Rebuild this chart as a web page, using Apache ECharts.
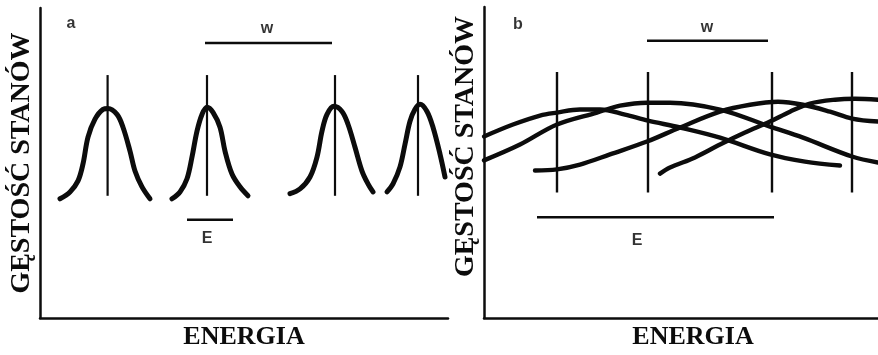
<!DOCTYPE html>
<html>
<head>
<meta charset="utf-8">
<style>
  html, body { margin: 0; padding: 0; background: #ffffff; }
  #chart { width: 878px; height: 355px; }
</style>
<script src="https://cdn.jsdelivr.net/npm/echarts@6/dist/echarts.min.js"></script>
</head>
<body>
<div id="chart"></div>
<script>
// Panel (a): narrow, well separated density-of-states peaks
// (energy in arbitrary units along x, density of states along y)
const peakA1 = [[5,40],[7.5,42.3],[9.5,46],[10.75,51.7],[12,60.7],[13.75,66.7],[15.75,70],[17,70.3],[19.25,68.3],[20.75,64],[22.5,56],[23.75,49.3],[25.5,44],[27.5,40]];
const peakA2 = [[33,40],[35,42.3],[36.75,46.7],[38,54],[39.25,62.7],[40.5,68.3],[41.75,70.7],[43.25,69],[45,64],[46.25,56],[48,48.3],[50,44],[52,41]];
const peakA3 = [[62.5,41.7],[65,43.3],[67.5,47.3],[69.25,54],[70.5,62.7],[71.75,68.3],[73.5,71],[75.5,69.3],[77,65],[78.75,57.3],[80.5,49.3],[82,45],[83.25,42.3]];
const peakA4 = [[86.75,42.3],[88.25,45],[90,50.7],[91.25,58.3],[92.5,66],[93.75,70],[95,71.7],[96.75,69.3],[98.25,64],[100,55],[101.25,47.3]];
// level positions (x) and vertical extent of the level markers
const levelsA = [16.9, 41.75, 73.75, 94.5];
const levelSpanA = [41, 81.5];
// W bar (above) and E bar (below): [x0, x1, y]
const barWA = [41.25, 73, 92.3];
const barEA = [36.75, 48.25, 33];
// text labels: [x, y, text]
const labelsA = [[7.75, 98.7, 'a'], [56.75, 97.2, 'w'], [41.75, 26.7, 'E']];

// Panel (b): broad, strongly overlapping bands
const bandB1 = [[0,60.7],[7.25,64.7],[14,67.7],[18.25,68.7],[24,69.7],[29,69.7],[35.25,68],[41,66],[49,63.7],[59,60.3],[71.5,54.7],[80.25,52.3],[89,51]];
const bandB2 = [[0,52.7],[9,58],[18.25,64.7],[28.25,68.7],[34,71],[40.75,72],[46.5,72],[59,69.7],[71.5,64],[79.75,60.3],[92,54],[98.5,52]];
const bandB3 = [[12.75,49.3],[18.25,49.7],[24,51.3],[31.5,54.7],[40.75,59],[49,63.7],[59,69],[66.5,71.3],[73.5,72.3],[79.75,71.3],[86.5,69],[92,66.7],[98.5,65.7]];
const bandB4 = [[44,48.3],[46.5,50.3],[52.75,53.7],[59,58],[65.25,62],[71.5,65.7],[76.5,69],[81.5,71.7],[87.75,73],[92.75,73.3],[98.5,73]];
const levelsB = [18.25, 41, 72, 92];
const levelSpanB = [42, 82.3];
const barWB = [40.75, 71, 92.7];
const barEB = [13.25, 72.5, 33.7];
const labelsB = [[8.5, 98, 'b'], [55.75, 97, 'w'], [38.25, 26, 'E']];

const axisTitleX = 'ENERGIA';
const axisTitleY = 'GĘSTOŚĆ STANÓW';

const INK = '#0c0c0c';

function curve(data, gi, width) {
  return {
    type: 'line', xAxisIndex: gi, yAxisIndex: gi, data: data,
    smooth: 0.35, showSymbol: false, silent: true, animation: false,
    lineStyle: { color: INK, width: width, cap: 'round', join: 'round' }
  };
}
function segment(p0, p1, gi, width) {
  return {
    type: 'line', xAxisIndex: gi, yAxisIndex: gi, data: [p0, p1],
    showSymbol: false, silent: true, animation: false,
    lineStyle: { color: INK, width: width, cap: 'butt' }
  };
}
function labels(list, gi) {
  return {
    type: 'scatter', xAxisIndex: gi, yAxisIndex: gi, silent: true, animation: false,
    symbolSize: 1, itemStyle: { color: 'rgba(0,0,0,0)' },
    data: list.map(l => ({ value: [l[0], l[1]], name: l[2] })),
    label: {
      show: true, position: 'inside', formatter: p => p.name,
      color: '#000000', fontFamily: 'Liberation Sans', fontWeight: 'bold', fontSize: 16
    }
  };
}

function panelSeries(curves, levels, span, barW, barE, lbls, gi, curveWidth, levelWidth) {
  const out = [];
  curves.forEach(c => out.push(curve(c, gi, curveWidth)));
  levels.forEach(x => out.push(segment([x, span[0]], [x, span[1]], gi, levelWidth)));
  out.push(segment([barW[0], barW[2]], [barW[1], barW[2]], gi, 2.5));
  out.push(segment([barE[0], barE[2]], [barE[1], barE[2]], gi, 2.5));
  out.push(labels(lbls, gi));
  return out;
}

const titleFont = { fontFamily: 'Liberation Serif', fontWeight: 'bold', color: INK };

function xAxis(gi, max, pad) {
  return {
    type: 'value', gridIndex: gi, min: 0, max: max,
    axisLine: { show: true, onZero: false, lineStyle: { color: INK, width: 2.5 } },
    axisTick: { show: false }, axisLabel: { show: false }, splitLine: { show: false },
    name: axisTitleX, nameLocation: 'middle', nameGap: 6,
    nameTextStyle: Object.assign({ fontSize: 26, padding: pad }, titleFont)
  };
}
function yAxis(gi, pad) {
  return {
    type: 'value', gridIndex: gi, min: 0, max: 104,
    axisLine: { show: true, onZero: false, lineStyle: { color: INK, width: 2.5 } },
    axisTick: { show: false }, axisLabel: { show: false }, splitLine: { show: false },
    name: axisTitleY, nameLocation: 'middle', nameRotate: 90, nameGap: 4,
    nameTextStyle: Object.assign({ fontSize: 28, padding: pad }, titleFont)
  };
}

const chart = echarts.init(document.getElementById('chart'), null, { renderer: 'canvas' });
chart.setOption({
  backgroundColor: '#ffffff',
  animation: false,
  grid: [
    { left: 40, top: 8, width: 408, height: 312 },
    { left: 484, top: 7, width: 394, height: 312 }
  ],
  xAxis: [xAxis(0, 102, 0), xAxis(1, 98.5, [0, 0, 0, 24])],
  yAxis: [yAxis(0, 0), yAxis(1, [0, 0, 0, 32])],
  series: [].concat(
    panelSeries([peakA1, peakA2, peakA3, peakA4], levelsA, levelSpanA, barWA, barEA, labelsA, 0, 5, 2.2),
    panelSeries([bandB1, bandB2, bandB3, bandB4], levelsB, levelSpanB, barWB, barEB, labelsB, 1, 4.4, 2.4)
  )
});
</script>
</body>
</html>
